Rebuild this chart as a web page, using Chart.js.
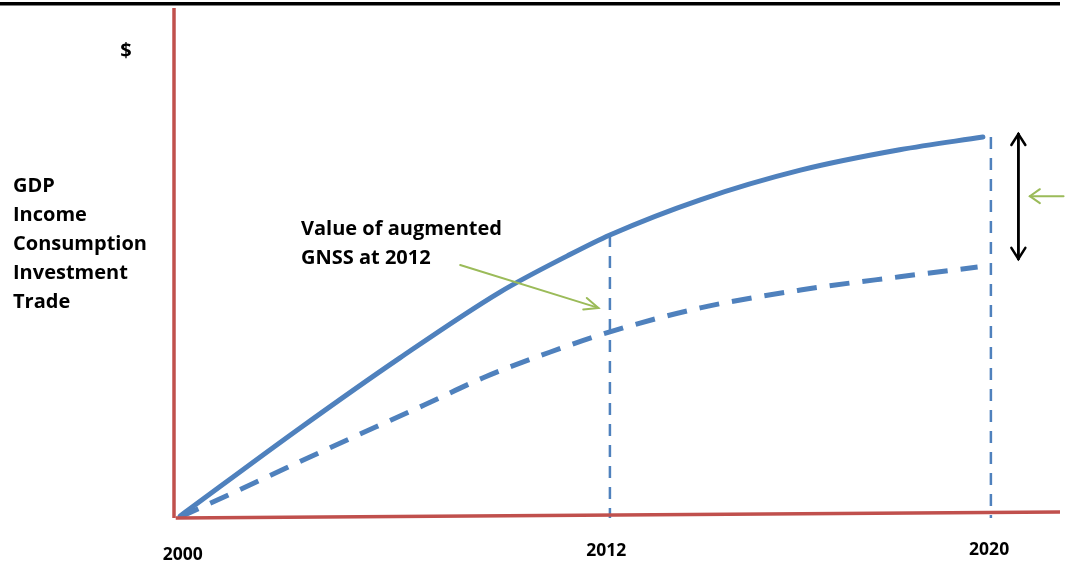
<!DOCTYPE html>
<html>
<head>
<meta charset="utf-8">
<script src="https://cdn.jsdelivr.net/npm/chart.js@4.4.1/dist/chart.umd.min.js"></script>
<style>
  html, body { margin: 0; padding: 0; background: #fff; }
  #wrap { width: 1067px; height: 566px; }
</style>
</head>
<body>
<div id="wrap"><canvas id="gnss-chart" width="1067" height="566"></canvas></div>
<script>
// schematic time axis: positions (0-100) where each year sits on the drawing
const yearLabels = ["2000", "2012", "2020"];
const yearPos = [1.0, 48.8, 92.0];

// curve with augmented GNSS (solid) and without (dashed)
const withX = [0.7, 14.2, 25.5, 36.8, 44.4, 49.2, 59.4, 70.7, 81.9, 91.3];
const withY = [0.4, 17.6, 31.4, 44.3, 51.4, 55.5, 62.4, 68.2, 72.2, 74.7];
const withoutX = [0.7, 9.1, 16.5, 28.3, 34.9, 42.4, 49.2, 59.4, 70.7, 81.9, 90.7];
const withoutY = [0.2, 6.9, 12.9, 22.2, 27.5, 32.5, 36.5, 41.2, 44.7, 47.3, 49.2];

// vertical drop lines at 2012 and 2020
const dropX = [49.2, 92.2];
const dropTop = [55.5, 74.7];

const yLabels = ["GDP", "Income", "Consumption", "Investment", "Trade"];

const blue = "#4f81bd";
const red = "#c0504d";
const green = "#9bbb59";
const font = "'Open Sans', 'Liberation Sans', sans-serif";

const pts = (xs, ys) => xs.map((x, i) => ({ x: x, y: ys[i] }));

const datasets = [
  {
    data: [{ x: 0, y: 0 }, { x: 0, y: 100 }],
    borderColor: red, borderWidth: 3.5, pointRadius: 0, tension: 0, clip: false,
  },
  {
    data: [{ x: 0.2, y: 0 }, { x: 100, y: 1.2 }],
    borderColor: red, borderWidth: 3.5, pointRadius: 0, tension: 0, clip: false,
  },
  {
    data: pts(withX, withY),
    borderColor: blue, borderWidth: 5, pointRadius: 0,
    cubicInterpolationMode: "monotone", borderCapStyle: "round",
  },
  {
    data: pts(withoutX, withoutY),
    borderColor: blue, borderWidth: 5, pointRadius: 0,
    cubicInterpolationMode: "monotone", borderDash: [20, 13],
  },
];
dropX.forEach((x, i) => {
  datasets.push({
    data: [{ x: x, y: dropTop[i] }, { x: x, y: 0 }],
    borderColor: blue, borderWidth: 2.5, pointRadius: 0, borderDash: [12, 9],
  });
});

function arrowHead(ctx, x1, y1, x2, y2, len, half) {
  const a = Math.atan2(y2 - y1, x2 - x1);
  ctx.beginPath();
  ctx.moveTo(x2 - len * Math.cos(a) + half * Math.sin(a), y2 - len * Math.sin(a) - half * Math.cos(a));
  ctx.lineTo(x2, y2);
  ctx.lineTo(x2 - len * Math.cos(a) - half * Math.sin(a), y2 - len * Math.sin(a) + half * Math.cos(a));
  ctx.stroke();
}

function arrow(ctx, x1, y1, x2, y2, color, width, len, half) {
  ctx.save();
  ctx.strokeStyle = color;
  ctx.lineWidth = width;
  ctx.lineCap = "round";
  ctx.beginPath();
  ctx.moveTo(x1, y1);
  ctx.lineTo(x2, y2);
  ctx.stroke();
  arrowHead(ctx, x1, y1, x2, y2, len, half);
  ctx.restore();
}

const decor = {
  id: "decor",
  afterDatasetsDraw(chart) {
    const ctx = chart.ctx;
    const xs = chart.scales.x, ys = chart.scales.y;
    ctx.save();
    // top rule
    ctx.fillStyle = "#000";
    ctx.fillRect(0, 2, 1060, 3.5);

    ctx.textBaseline = "middle";
    ctx.font = "bold 20px " + font;
    ctx.textAlign = "center";
    ctx.fillText("$", 126, 51);

    ctx.textAlign = "left";
    yLabels.forEach((t, i) => ctx.fillText(t, 13, 186 + i * 29));

    ctx.fillText("Value of augmented", 301, 229);
    ctx.fillText("GNSS at 2012", 301, 258);

    // year labels under the time axis
    ctx.textAlign = "center";
    ctx.font = "bold 17.5px " + font;
    const labY = [555, 551, 550];
    yearLabels.forEach((t, i) => ctx.fillText(t, xs.getPixelForValue(yearPos[i]), labY[i]));
    ctx.restore();

    // pointer to the 2012 value
    arrow(ctx, xs.getPixelForValue(32.3), ys.getPixelForValue(49.6),
      xs.getPixelForValue(47.9), ys.getPixelForValue(41.2), green, 2, 14, 6);
    // pointer at the right edge
    arrow(ctx, xs.getPixelForValue(100.4), ys.getPixelForValue(63.1),
      xs.getPixelForValue(96.6), ys.getPixelForValue(63.1), green, 2, 10, 7);
    // double arrow: gap between the two curves at 2020
    const bx = xs.getPixelForValue(95.3);
    const bTop = ys.getPixelForValue(75.3), bBot = ys.getPixelForValue(50.8);
    arrow(ctx, bx, bBot, bx, bTop, "#000", 2.5, 11, 7);
    arrow(ctx, bx, bTop, bx, bBot, "#000", 2.5, 11, 7);
  },
};

new Chart(document.getElementById("gnss-chart"), {
  type: "line",
  data: { datasets: datasets },
  options: {
    responsive: false,
    animation: false,
    layout: { padding: { left: 174, right: 7, top: 8, bottom: 48 } },
    plugins: { legend: { display: false }, tooltip: { enabled: false } },
    scales: {
      x: { type: "linear", min: 0, max: 100, display: false },
      y: { type: "linear", min: 0, max: 100, display: false },
    },
  },
  plugins: [decor],
});
</script>
</body>
</html>
